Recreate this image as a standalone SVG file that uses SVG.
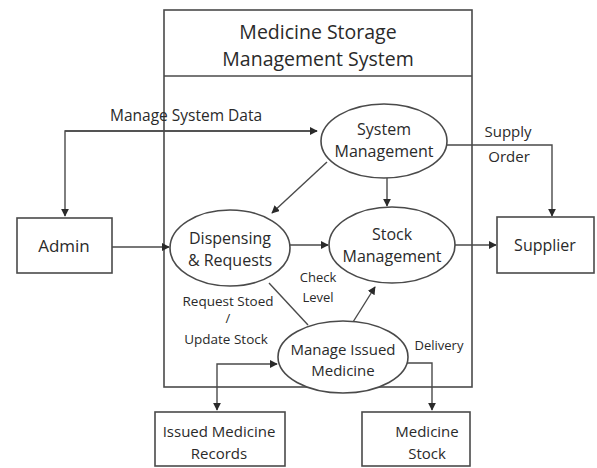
<svg xmlns="http://www.w3.org/2000/svg" width="597" height="468" viewBox="0 0 597 468">
<style>
.b{fill:#fff;stroke:#4a4a4a;stroke-width:1.6}
.t{font-family:"Open Sans",sans-serif;font-size:16px;fill:#2a2a2a;text-anchor:middle}
.l{font-family:"Open Sans",sans-serif;font-size:13px;fill:#2a2a2a;text-anchor:middle}
.c{fill:none;stroke:#4a4a4a;stroke-width:1.4}
</style>
<defs>
<marker id="a" viewBox="0 0 10 10" refX="9" refY="5" markerWidth="8" markerHeight="8" orient="auto-start-reverse" markerUnits="userSpaceOnUse"><path d="M0,0L10,5L0,10z" fill="#2a2a2a"/></marker>
</defs>
<rect width="597" height="468" fill="#fff"/>
<g id="system">
<rect class="b" x="164" y="10" width="308" height="377"/>
<line x1="164" y1="76" x2="472" y2="76" stroke="#4a4a4a" stroke-width="1.6"/>
<text class="t" x="318" y="39" style="font-size:19.5px">Medicine Storage</text>
<text class="t" x="318" y="66" style="font-size:19.5px">Management System</text>
</g>
<g id="connectors">
<path class="c" d="M317,131H65V216" marker-end="url(#a)"/>
<path class="c" d="M65,131H317" marker-end="url(#a)"/>
<path class="c" d="M447,145H552V216" marker-end="url(#a)"/>
<path class="c" d="M387,178V206" marker-end="url(#a)"/>
<path class="c" d="M327,162L272,213" marker-end="url(#a)"/>
<path class="c" d="M112,247H169" marker-end="url(#a)"/>
<path class="c" d="M290,245H328" marker-end="url(#a)"/>
<path class="c" d="M455,245H496" marker-end="url(#a)"/>
<path class="c" d="M353,322L375,287" marker-end="url(#a)"/>
<path class="c" d="M269,283L308,325"/>
<path class="c" d="M217,410V364H277" marker-start="url(#a)" marker-end="url(#a)"/>
<path class="c" d="M401,363H432V410" marker-end="url(#a)"/>
<text class="l" x="186" y="121" style="font-size:15.5px">Manage System Data</text>
<text class="l" x="508" y="137" style="font-size:15px">Supply</text>
<text class="l" x="509" y="162" style="font-size:15px">Order</text>
<text class="l" x="318" y="282">Check</text>
<text class="l" x="318" y="302">Level</text>
<text class="l" x="228" y="306" style="font-size:13.5px">Request Stoed</text>
<text class="l" x="228" y="323">/</text>
<text class="l" x="226" y="344" style="font-size:13.5px">Update Stock</text>
<text class="l" x="439" y="350">Delivery</text>
</g>
<g id="admin">
<rect class="b" x="17" y="218" width="95" height="55"/>
<text class="t" x="64" y="252" style="font-size:17px">Admin</text>
</g>
<g id="supplier">
<rect class="b" x="497" y="217" width="97" height="56"/>
<text class="t" x="545" y="251">Supplier</text>
</g>
<g id="sysmgmt">
<ellipse class="b" cx="384" cy="141" rx="63" ry="37"/>
<text class="t" x="384" y="135">System</text>
<text class="t" x="384" y="157">Management</text>
</g>
<g id="stockmgmt">
<ellipse class="b" cx="392" cy="245" rx="63" ry="38"/>
<text class="t" x="392" y="240">Stock</text>
<text class="t" x="392" y="262">Management</text>
</g>
<g id="dispensing">
<ellipse class="b" cx="230" cy="248" rx="60" ry="38"/>
<text class="t" x="230" y="244">Dispensing</text>
<text class="t" x="230" y="266">&amp; Requests</text>
</g>
<g id="issued">
<ellipse class="b" cx="343" cy="357" rx="65" ry="36"/>
<text class="t" x="343" y="355" style="font-size:15px">Manage Issued</text>
<text class="t" x="343" y="376" style="font-size:15px">Medicine</text>
</g>
<g id="records">
<rect class="b" x="155" y="412" width="130" height="54"/>
<text class="t" x="219" y="437" style="font-size:15px">Issued Medicine</text>
<text class="t" x="219" y="459" style="font-size:15px">Records</text>
</g>
<g id="stock">
<rect class="b" x="362" y="412" width="108" height="54"/>
<text class="t" x="427" y="437" style="font-size:15px">Medicine</text>
<text class="t" x="427" y="459" style="font-size:15px">Stock</text>
</g>
</svg>
